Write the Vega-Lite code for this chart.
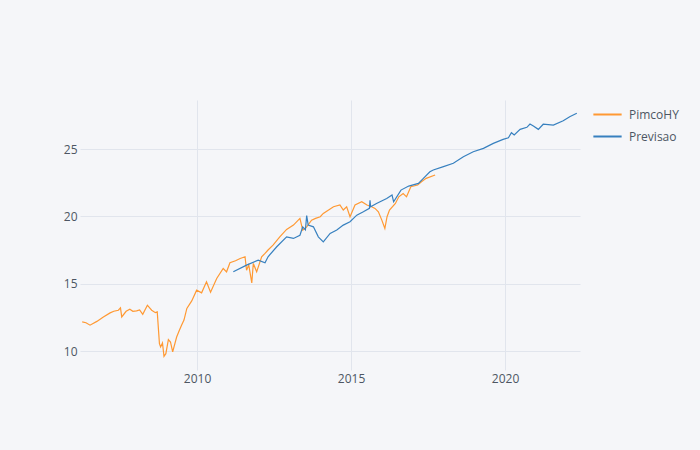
{
  "$schema": "https://vega.github.io/schema/vega-lite/v6.json",
  "width": 500,
  "height": 270,
  "autosize": {"type": "none"},
  "padding": {"left": 80, "top": 100, "right": 120, "bottom": 80},
  "background": "#F5F6F9",
  "config": {
    "view": {"stroke": null, "fill": "#F5F6F9"},
    "font": "Open Sans",
    "axis": {"labelColor": "#4D5663", "labelFontSize": 12, "gridColor": "#E1E5ED", "gridWidth": 1, "domain": false, "ticks": false, "title": null, "labelFont": "Open Sans"},
    "legend": {"labelColor": "#4D5663", "labelFontSize": 12, "labelFont": "Open Sans"}
  },
  "data": {"values": [
    {"date": "2006-04-10", "value": 12.16, "series": "PimcoHY"},
    {"date": "2006-05-25", "value": 12.1, "series": "PimcoHY"},
    {"date": "2006-07-12", "value": 11.92, "series": "PimcoHY"},
    {"date": "2006-10-01", "value": 12.2, "series": "PimcoHY"},
    {"date": "2006-12-17", "value": 12.53, "series": "PimcoHY"},
    {"date": "2007-03-07", "value": 12.83, "series": "PimcoHY"},
    {"date": "2007-04-20", "value": 12.95, "series": "PimcoHY"},
    {"date": "2007-06-13", "value": 13.03, "series": "PimcoHY"},
    {"date": "2007-07-08", "value": 13.2, "series": "PimcoHY"},
    {"date": "2007-07-23", "value": 12.53, "series": "PimcoHY"},
    {"date": "2007-09-13", "value": 12.95, "series": "PimcoHY"},
    {"date": "2007-10-27", "value": 13.1, "series": "PimcoHY"},
    {"date": "2007-12-02", "value": 12.95, "series": "PimcoHY"},
    {"date": "2008-01-15", "value": 12.98, "series": "PimcoHY"},
    {"date": "2008-02-20", "value": 13.05, "series": "PimcoHY"},
    {"date": "2008-03-28", "value": 12.73, "series": "PimcoHY"},
    {"date": "2008-05-22", "value": 13.4, "series": "PimcoHY"},
    {"date": "2008-07-12", "value": 13.03, "series": "PimcoHY"},
    {"date": "2008-08-25", "value": 12.85, "series": "PimcoHY"},
    {"date": "2008-09-16", "value": 12.9, "series": "PimcoHY"},
    {"date": "2008-10-12", "value": 10.55, "series": "PimcoHY"},
    {"date": "2008-10-26", "value": 10.3, "series": "PimcoHY"},
    {"date": "2008-11-17", "value": 10.6, "series": "PimcoHY"},
    {"date": "2008-12-05", "value": 9.6, "series": "PimcoHY"},
    {"date": "2008-12-27", "value": 9.8, "series": "PimcoHY"},
    {"date": "2009-01-26", "value": 10.85, "series": "PimcoHY"},
    {"date": "2009-02-20", "value": 10.67, "series": "PimcoHY"},
    {"date": "2009-03-18", "value": 9.93, "series": "PimcoHY"},
    {"date": "2009-05-04", "value": 11.04, "series": "PimcoHY"},
    {"date": "2009-06-03", "value": 11.5, "series": "PimcoHY"},
    {"date": "2009-07-01", "value": 11.91, "series": "PimcoHY"},
    {"date": "2009-07-30", "value": 12.3, "series": "PimcoHY"},
    {"date": "2009-09-02", "value": 13.16, "series": "PimcoHY"},
    {"date": "2009-10-30", "value": 13.72, "series": "PimcoHY"},
    {"date": "2009-12-27", "value": 14.52, "series": "PimcoHY"},
    {"date": "2010-02-24", "value": 14.32, "series": "PimcoHY"},
    {"date": "2010-04-23", "value": 15.14, "series": "PimcoHY"},
    {"date": "2010-06-10", "value": 14.37, "series": "PimcoHY"},
    {"date": "2010-08-22", "value": 15.39, "series": "PimcoHY"},
    {"date": "2010-11-07", "value": 16.13, "series": "PimcoHY"},
    {"date": "2010-12-17", "value": 15.88, "series": "PimcoHY"},
    {"date": "2011-01-26", "value": 16.55, "series": "PimcoHY"},
    {"date": "2011-04-02", "value": 16.7, "series": "PimcoHY"},
    {"date": "2011-05-27", "value": 16.87, "series": "PimcoHY"},
    {"date": "2011-07-24", "value": 17.0, "series": "PimcoHY"},
    {"date": "2011-08-11", "value": 16.0, "series": "PimcoHY"},
    {"date": "2011-09-06", "value": 16.4, "series": "PimcoHY"},
    {"date": "2011-10-12", "value": 15.06, "series": "PimcoHY"},
    {"date": "2011-10-30", "value": 16.5, "series": "PimcoHY"},
    {"date": "2011-12-09", "value": 15.88, "series": "PimcoHY"},
    {"date": "2012-02-06", "value": 17.0, "series": "PimcoHY"},
    {"date": "2012-03-17", "value": 17.25, "series": "PimcoHY"},
    {"date": "2012-04-22", "value": 17.5, "series": "PimcoHY"},
    {"date": "2012-06-20", "value": 17.86, "series": "PimcoHY"},
    {"date": "2012-09-08", "value": 18.48, "series": "PimcoHY"},
    {"date": "2012-11-28", "value": 19.03, "series": "PimcoHY"},
    {"date": "2013-02-17", "value": 19.35, "series": "PimcoHY"},
    {"date": "2013-05-05", "value": 19.85, "series": "PimcoHY"},
    {"date": "2013-06-07", "value": 18.98, "series": "PimcoHY"},
    {"date": "2013-07-24", "value": 19.22, "series": "PimcoHY"},
    {"date": "2013-09-20", "value": 19.72, "series": "PimcoHY"},
    {"date": "2013-11-06", "value": 19.85, "series": "PimcoHY"},
    {"date": "2014-01-01", "value": 19.97, "series": "PimcoHY"},
    {"date": "2014-02-06", "value": 20.22, "series": "PimcoHY"},
    {"date": "2014-06-07", "value": 20.71, "series": "PimcoHY"},
    {"date": "2014-08-22", "value": 20.84, "series": "PimcoHY"},
    {"date": "2014-10-01", "value": 20.47, "series": "PimcoHY"},
    {"date": "2014-11-10", "value": 20.71, "series": "PimcoHY"},
    {"date": "2014-12-20", "value": 19.97, "series": "PimcoHY"},
    {"date": "2015-02-17", "value": 20.84, "series": "PimcoHY"},
    {"date": "2015-05-08", "value": 21.08, "series": "PimcoHY"},
    {"date": "2015-07-09", "value": 20.84, "series": "PimcoHY"},
    {"date": "2015-09-02", "value": 20.71, "series": "PimcoHY"},
    {"date": "2015-10-12", "value": 20.59, "series": "PimcoHY"},
    {"date": "2015-11-21", "value": 20.34, "series": "PimcoHY"},
    {"date": "2016-01-01", "value": 19.72, "series": "PimcoHY"},
    {"date": "2016-02-06", "value": 19.1, "series": "PimcoHY"},
    {"date": "2016-03-03", "value": 19.97, "series": "PimcoHY"},
    {"date": "2016-04-01", "value": 20.47, "series": "PimcoHY"},
    {"date": "2016-06-10", "value": 20.96, "series": "PimcoHY"},
    {"date": "2016-07-20", "value": 21.45, "series": "PimcoHY"},
    {"date": "2016-09-10", "value": 21.7, "series": "PimcoHY"},
    {"date": "2016-10-20", "value": 21.45, "series": "PimcoHY"},
    {"date": "2016-12-10", "value": 22.2, "series": "PimcoHY"},
    {"date": "2017-03-01", "value": 22.33, "series": "PimcoHY"},
    {"date": "2017-04-15", "value": 22.57, "series": "PimcoHY"},
    {"date": "2017-06-10", "value": 22.82, "series": "PimcoHY"},
    {"date": "2017-09-24", "value": 23.07, "series": "PimcoHY"},
    {"date": "2011-03-07", "value": 15.88, "series": "Previsao"},
    {"date": "2011-08-11", "value": 16.38, "series": "Previsao"},
    {"date": "2011-12-27", "value": 16.75, "series": "Previsao"},
    {"date": "2012-03-17", "value": 16.55, "series": "Previsao"},
    {"date": "2012-04-22", "value": 17.0, "series": "Previsao"},
    {"date": "2012-08-03", "value": 17.74, "series": "Previsao"},
    {"date": "2012-11-28", "value": 18.48, "series": "Previsao"},
    {"date": "2013-02-17", "value": 18.36, "series": "Previsao"},
    {"date": "2013-05-05", "value": 18.6, "series": "Previsao"},
    {"date": "2013-06-07", "value": 19.22, "series": "Previsao"},
    {"date": "2013-07-09", "value": 19.0, "series": "Previsao"},
    {"date": "2013-07-24", "value": 20.05, "series": "Previsao"},
    {"date": "2013-08-11", "value": 19.35, "series": "Previsao"},
    {"date": "2013-10-12", "value": 19.22, "series": "Previsao"},
    {"date": "2013-12-09", "value": 18.48, "series": "Previsao"},
    {"date": "2014-02-06", "value": 18.11, "series": "Previsao"},
    {"date": "2014-04-28", "value": 18.73, "series": "Previsao"},
    {"date": "2014-07-16", "value": 18.98, "series": "Previsao"},
    {"date": "2014-10-01", "value": 19.35, "series": "Previsao"},
    {"date": "2014-12-20", "value": 19.6, "series": "Previsao"},
    {"date": "2015-03-10", "value": 20.09, "series": "Previsao"},
    {"date": "2015-05-27", "value": 20.34, "series": "Previsao"},
    {"date": "2015-08-07", "value": 20.6, "series": "Previsao"},
    {"date": "2015-08-14", "value": 21.2, "series": "Previsao"},
    {"date": "2015-08-21", "value": 20.71, "series": "Previsao"},
    {"date": "2015-10-30", "value": 20.96, "series": "Previsao"},
    {"date": "2016-02-28", "value": 21.33, "series": "Previsao"},
    {"date": "2016-05-01", "value": 21.58, "series": "Previsao"},
    {"date": "2016-05-20", "value": 21.08, "series": "Previsao"},
    {"date": "2016-08-15", "value": 21.95, "series": "Previsao"},
    {"date": "2016-11-15", "value": 22.25, "series": "Previsao"},
    {"date": "2017-03-10", "value": 22.45, "series": "Previsao"},
    {"date": "2017-05-08", "value": 22.82, "series": "Previsao"},
    {"date": "2017-07-24", "value": 23.31, "series": "Previsao"},
    {"date": "2017-09-02", "value": 23.44, "series": "Previsao"},
    {"date": "2018-01-01", "value": 23.69, "series": "Previsao"},
    {"date": "2018-04-28", "value": 23.94, "series": "Previsao"},
    {"date": "2018-08-25", "value": 24.43, "series": "Previsao"},
    {"date": "2018-12-20", "value": 24.8, "series": "Previsao"},
    {"date": "2019-04-20", "value": 25.05, "series": "Previsao"},
    {"date": "2019-08-15", "value": 25.42, "series": "Previsao"},
    {"date": "2019-12-09", "value": 25.72, "series": "Previsao"},
    {"date": "2020-02-10", "value": 25.84, "series": "Previsao"},
    {"date": "2020-03-17", "value": 26.21, "series": "Previsao"},
    {"date": "2020-04-19", "value": 26.04, "series": "Previsao"},
    {"date": "2020-06-28", "value": 26.46, "series": "Previsao"},
    {"date": "2020-09-16", "value": 26.61, "series": "Previsao"},
    {"date": "2020-10-23", "value": 26.86, "series": "Previsao"},
    {"date": "2020-12-02", "value": 26.71, "series": "Previsao"},
    {"date": "2021-01-30", "value": 26.46, "series": "Previsao"},
    {"date": "2021-03-29", "value": 26.84, "series": "Previsao"},
    {"date": "2021-07-27", "value": 26.78, "series": "Previsao"},
    {"date": "2021-11-21", "value": 27.1, "series": "Previsao"},
    {"date": "2022-02-06", "value": 27.4, "series": "Previsao"},
    {"date": "2022-05-01", "value": 27.65, "series": "Previsao"}
  ]},
  "mark": {"type": "line", "strokeWidth": 1.2, "interpolate": "linear"},
  "encoding": {
    "x": {
      "field": "date", "type": "temporal",
      "scale": {"domain": [{"year": 2006, "month": 3, "date": 15}, {"year": 2022, "month": 6, "date": 8}], "nice": false},
      "axis": {"values": [{"year": 2010, "month": 1, "date": 1}, {"year": 2015, "month": 1, "date": 1}, {"year": 2020, "month": 1, "date": 1}], "format": "%Y", "labelPadding": 3, "grid": true}
    },
    "y": {
      "field": "value", "type": "quantitative",
      "scale": {"domain": [8.59, 28.64], "nice": false, "zero": false},
      "axis": {"values": [10, 15, 20, 25], "labelPadding": 3, "grid": true}
    },
    "color": {
      "field": "series", "type": "nominal",
      "scale": {"domain": ["PimcoHY", "Previsao"], "range": ["#FF9933", "#3780BF"]},
      "legend": {"title": null, "orient": "none", "legendX": 512, "legendY": -1, "symbolType": "stroke", "symbolSize": 800, "symbolStrokeWidth": 2, "rowPadding": -8, "labelOffset": 6}
    }
  }
}
